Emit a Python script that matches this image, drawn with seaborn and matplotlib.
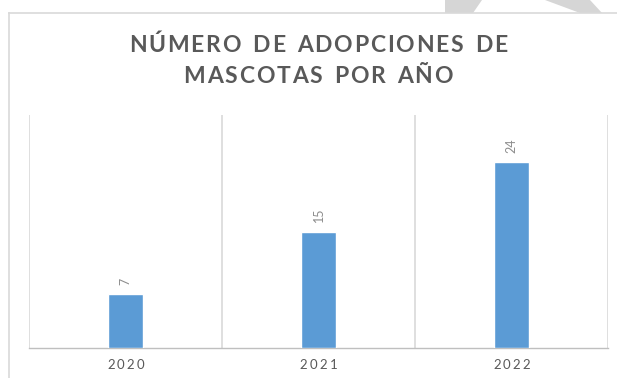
import matplotlib
matplotlib.use("Agg")
import matplotlib.pyplot as plt
from matplotlib.patches import Polygon
from matplotlib.transforms import IdentityTransform
from matplotlib.font_manager import FontProperties
import seaborn as sns
import pandas as pd

# Data
years = ["2020", "2021", "2022"]
adoptions = [7, 15, 24]
title_lines = ["NÚMERO DE ADOPCIONES DE", "MASCOTAS POR AÑO"]

W, H, DPI = 617, 378, 100
BAR_COLOR = "#5B9BD5"
GRID = "#d9d9d9"
TEXT = "#595959"
LABEL = "#8c8c8c"

sns.set_theme(style="white")
plt.rcParams["font.family"] = ["Lato", "DejaVu Sans"]

fig = plt.figure(figsize=(W / DPI, H / DPI), dpi=DPI)
fig.patch.set_facecolor("white")


def px_axes(left, top, right, bottom):
    return [left / W, 1 - bottom / H, (right - left) / W, (bottom - top) / H]


# Faint decorative ring behind the chart frame
for poly in ([(445, 0), (482, 0), (473, 13), (445, 13)],
             [(545, 0), (590, 0), (602, 13), (580, 13)]):
    fig.patches.append(Polygon([(x / W, 1 - y / H) for x, y in poly],
                               closed=True, transform=fig.transFigure,
                               facecolor="#d6d6d6", edgecolor="none", zorder=0))

# Chart frame
frame = fig.add_axes(px_axes(9, 13, 640, 400), zorder=1)
frame.set_facecolor("white")
frame.set_xticks([]); frame.set_yticks([])
for s in frame.spines.values():
    s.set_color(GRID); s.set_linewidth(1.2)

ax = fig.add_axes(px_axes(29, 115, 608, 348), zorder=2)
ax.patch.set_alpha(0)

df = pd.DataFrame({"year": years, "n": adoptions})
sns.barplot(data=df, x="year", y="n", color=BAR_COLOR, saturation=1,
            width=0.18, ax=ax, zorder=3)

ax.set_ylim(0, 30)
ax.set_xlim(-0.5, len(years) - 0.5)
ax.set_xlabel(""); ax.set_ylabel("")
ax.set_yticks([])
ax.set_xticks(range(len(years)))
ax.set_xticklabels([])
ax.tick_params(axis="x", length=0)

for s in ("left", "right", "top"):
    ax.spines[s].set_visible(False)
ax.spines["bottom"].set_color("#bfbfbf")
ax.spines["bottom"].set_linewidth(1.0)
for xb in [i - 0.5 for i in range(len(years) + 1)]:
    ax.axvline(xb, color=GRID, lw=1.2, zorder=1)

# Value labels, rotated
for i, v in enumerate(adoptions):
    ax.annotate(str(v), (i, v), xytext=(0, 6.5), textcoords="offset points",
                rotation=90, ha="center", va="bottom", fontsize=9,
                color=LABEL, family=["Lato", "DejaVu Sans"])

fig.canvas.draw()
renderer = fig.canvas.get_renderer()


def spaced_text(s, cx, base_y, fp, tracking, color, space_em=0.26):
    """Draw text centred on display x=cx, baseline at display y, with letter spacing."""
    size_px = fp.get_size_in_points() * DPI / 72
    widths = []
    for ch in s:
        if ch == " ":
            widths.append(size_px * space_em)
            continue
        t = fig.text(0, 0, ch, fontproperties=fp, transform=IdentityTransform())
        widths.append(t.get_window_extent(renderer).width)
        t.remove()
    total = sum(widths) + tracking * (len(s) - 1)
    x = cx - total / 2
    for ch, w in zip(s, widths):
        if ch != " ":
            fig.text(x, base_y, ch, fontproperties=fp, color=color,
                     transform=IdentityTransform(), ha="left", va="baseline")
        x += w + tracking


title_fp = FontProperties(family=["Lato", "DejaVu Sans"], weight="bold", size=16.5)
spaced_text(title_lines[0], 318, H - 52, title_fp, 1.8, TEXT, space_em=0.36)
spaced_text(title_lines[1], 318, H - 83, title_fp, 1.8, TEXT, space_em=0.36)

tick_fp = FontProperties(family=["Lato", "DejaVu Sans"], size=9.5)
for i, yr in enumerate(years):
    xd, _ = ax.transData.transform((i, 0))
    spaced_text(yr, xd, H - 369, tick_fp, 2.2, TEXT)

fig.savefig("out.png", dpi=DPI)
